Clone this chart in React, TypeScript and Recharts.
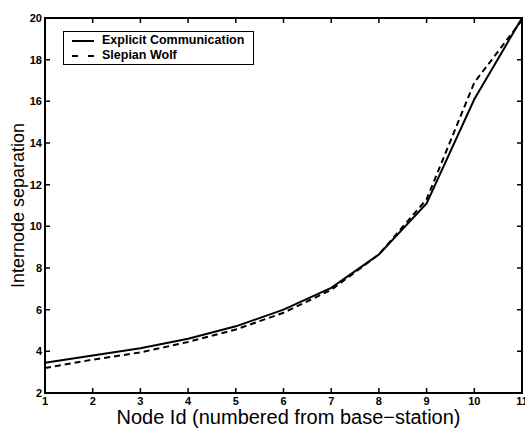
import { CartesianGrid, Label, Legend, Line, LineChart, ReferenceArea, XAxis, YAxis } from "recharts";

const nodeIds = [1, 2, 3, 4, 5, 6, 7, 8, 9, 10, 11];
const explicitComm = [3.45, 3.8, 4.15, 4.6, 5.2, 6.0, 7.05, 8.65, 11.1, 16.1, 20.0];
const slepianWolf = [3.2, 3.6, 3.95, 4.45, 5.05, 5.85, 6.95, 8.65, 11.3, 16.9, 19.9];
const yTicks = [2, 4, 6, 8, 10, 12, 14, 16, 18, 20];

const seriesNames = ["Explicit Communication", "Slepian Wolf"];

const data = nodeIds.map((id, i) => ({ id, explicit: explicitComm[i], slepian: slepianWolf[i] }));

const FONT = "'Liberation Sans', Arial, Helvetica, sans-serif";

// plot box is 477 x 375 px; inward tick marks are the first and last 5px of each grid line
const bottomTick = ({ x, y, payload }: any) => (
  <text x={x} y={y + 12} textAnchor="middle" fontFamily={FONT} style={{ fontWeight: 700 }} fontSize={11} fill="#000">
    {payload.value}
  </text>
);

const leftTick = ({ x, y, payload }: any) => (
  <text x={x - 3} y={y + 4} textAnchor="end" fontFamily={FONT} style={{ fontWeight: 700 }} fontSize={11} fill="#000">
    {payload.value}
  </text>
);

function LegendBox() {
  const row = (dash: string | undefined, name: string) => (
    <div style={{ display: "flex", alignItems: "center", height: 15 }}>
      <svg width={24} height={6} style={{ marginLeft: 1, marginRight: 7 }}>
        <line x1={1} x2={23} y1={3} y2={3} stroke="#000" strokeWidth={2} strokeDasharray={dash} />
      </svg>
      <span>{name}</span>
    </div>
  );
  return (
    <div
      style={{
        border: "1px solid #000",
        background: "#fff",
        fontFamily: FONT,
        fontWeight: 700,
        fontSize: 12.5,
        padding: "1px 6px",
        width: 177,
        boxSizing: "content-box",
        lineHeight: "15px",
      }}
    >
      {row(undefined, seriesNames[0])}
      {row("6 10", seriesNames[1])}
    </div>
  );
}

export default function App() {
  return (
    <div style={{ position: "absolute", left: 0, top: 0, width: 525, height: 430, background: "#fff" }}>
      <LineChart width={525} height={430} data={data} margin={{ top: 18, right: 3, bottom: 0, left: 0 }}>
        <CartesianGrid horizontal={false} stroke="#000" strokeWidth={1.5} strokeDasharray="5 365" />
        <CartesianGrid vertical={false} stroke="#000" strokeWidth={1.5} strokeDasharray="5 467" />
        <XAxis
          dataKey="id"
          type="number"
          domain={[1, 11]}
          ticks={nodeIds}
          height={37}
          axisLine={false}
          tickLine={false}
          tickSize={0}
          tickMargin={0}
          tick={bottomTick}
          interval={0}
        >
          <Label
            content={({ viewBox }: any) => (
              <text
                x={viewBox.x + viewBox.width / 2 + 5}
                y={424}
                textAnchor="middle"
                fontFamily={FONT}
                fontSize={20}
                fill="#000"
              >
                Node Id (numbered from base−station)
              </text>
            )}
          />
        </XAxis>
        <YAxis
          type="number"
          domain={[2, 20]}
          ticks={yTicks}
          width={45}
          axisLine={false}
          tickLine={false}
          tickSize={0}
          tickMargin={0}
          tick={leftTick}
          interval={0}
        >
          <Label
            content={({ viewBox }: any) => {
              const cx = 18;
              const cy = viewBox.y + viewBox.height / 2;
              return (
                <text
                  x={cx}
                  y={cy}
                  transform={`rotate(-90, ${cx}, ${cy})`}
                  textAnchor="middle"
                  dominantBaseline="central"
                  fontFamily={FONT}
                  fontSize={18}
                  fill="#000"
                >
                  Internode separation
                </text>
              );
            }}
          />
        </YAxis>
        <ReferenceArea
          x1={1}
          x2={11}
          y1={2}
          y2={20}
          fill="none"
          fillOpacity={0}
          stroke="#000"
          strokeWidth={2}
          strokeOpacity={1}
          ifOverflow="visible"
        />
        <Legend
          layout="vertical"
          align="center"
          verticalAlign="middle"
          content={<LegendBox />}
          wrapperStyle={{ position: "absolute", top: 31, left: 63, width: "auto" }}
        />
        <Line
          type="linear"
          dataKey="explicit"
          name={seriesNames[0]}
          stroke="#000"
          strokeWidth={2}
          dot={false}
          isAnimationActive={false}
        />
        <Line
          type="linear"
          dataKey="slepian"
          name={seriesNames[1]}
          stroke="#000"
          strokeWidth={2}
          strokeDasharray="6 4"
          dot={false}
          isAnimationActive={false}
        />
      </LineChart>
    </div>
  );
}
